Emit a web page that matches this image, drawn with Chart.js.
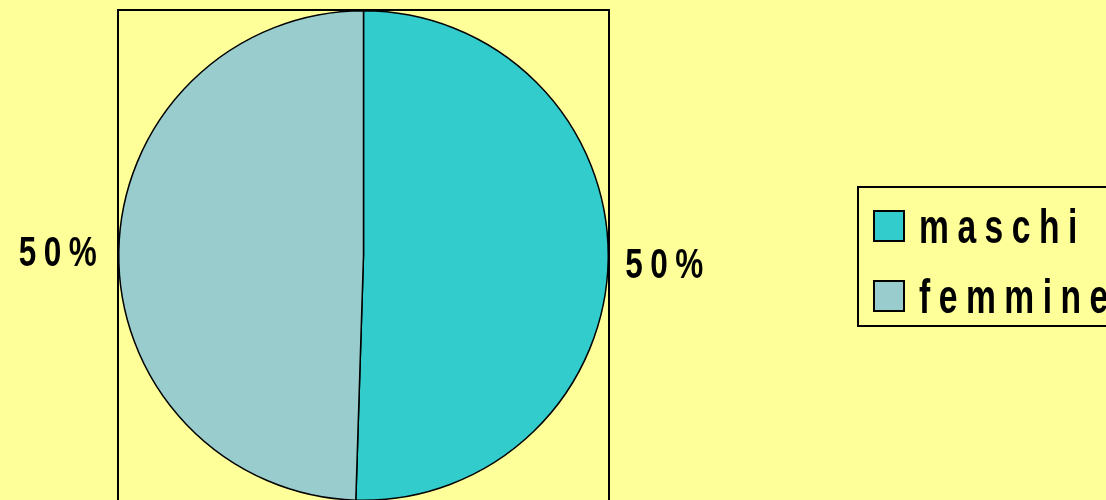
<!DOCTYPE html>
<html>
<head>
<meta charset="utf-8">
<title>maschi / femmine</title>
<script src="https://cdn.jsdelivr.net/npm/chart.js@4.4.1/dist/chart.umd.min.js"></script>
<style>
    html, body { margin: 0; padding: 0; background: #FFFF99; overflow: hidden; }
    #genderChart { display: block; }
</style>
</head>
<body>
<canvas id="genderChart" width="1106" height="520"></canvas>
<script>
// dati
var categories = ['maschi', 'femmine'];
var shares = [50.5, 49.5];
var shareLabels = ['50%', '50%'];

var sliceColors = ['#33CCCC', '#99CCCC'];
var textFont = '"Liberation Sans", Arial, sans-serif';

// scrive un testo stretto orizzontalmente e spaziato (come l'originale)
function drawSpacedText(ctx, text, x, y, size, squeeze, spacing, align) {
    ctx.save();
    ctx.font = 'bold ' + size + 'px ' + textFont;
    ctx.fillStyle = '#000000';
    ctx.textBaseline = 'alphabetic';
    ctx.textAlign = 'left';
    ctx.letterSpacing = (spacing / squeeze) + 'px';
    var width = ctx.measureText(text).width - spacing / squeeze;
    ctx.translate(x, y);
    ctx.scale(squeeze, 1);
    var startX = align === 'right' ? -width : 0;
    ctx.fillText(text, startX, 0);
    ctx.restore();
}

var decorations = {
    id: 'decorations',
    beforeDraw: function(chart) {
        var ctx = chart.ctx;
        ctx.save();
        ctx.fillStyle = '#FFFF99';
        ctx.fillRect(0, 0, chart.width, chart.height);
        ctx.restore();
    },
    afterDatasetsDraw: function(chart) {
        var ctx = chart.ctx;
        var area = chart.chartArea;

        // riquadro dell'area del grafico
        ctx.save();
        ctx.strokeStyle = '#000000';
        ctx.lineWidth = 2;
        ctx.strokeRect(area.left, area.top, area.right - area.left, area.bottom - area.top + 20);
        ctx.restore();

        // etichette percentuali fuori dalle fette
        var meta = chart.getDatasetMeta(0);
        meta.data.forEach(function(arc, i) {
            var mid = (arc.startAngle + arc.endAngle) / 2;
            var rightSide = Math.cos(mid) >= 0;
            var r = arc.outerRadius + (rightSide ? 17 : 22);
            var px = arc.x + Math.cos(mid) * r;
            var py = arc.y + Math.sin(mid) * r + (rightSide ? 3 : 0);
            drawSpacedText(ctx, shareLabels[i], px, py + 15, 42, 0.75, 7.5, rightSide ? 'left' : 'right');
        });

        // legenda
        var boxLeft = 858, boxTop = 187, boxBottom = 326;
        ctx.save();
        ctx.strokeStyle = '#000000';
        ctx.lineWidth = 2;
        ctx.strokeRect(boxLeft, boxTop, chart.width + 20 - boxLeft, boxBottom - boxTop);
        ctx.restore();

        categories.forEach(function(name, i) {
            var rowTop = 211 + i * 70;
            ctx.save();
            ctx.fillStyle = sliceColors[i];
            ctx.fillRect(874, rowTop, 30, 30);
            ctx.strokeStyle = '#000000';
            ctx.lineWidth = 2;
            ctx.strokeRect(874, rowTop, 30, 30);
            ctx.restore();
            drawSpacedText(ctx, name, 919, rowTop + 32, 48, 0.7, 8.5, 'left');
        });
    }
};

var ctx = document.getElementById('genderChart').getContext('2d');
var genderChart = new Chart(ctx, {
    type: 'pie',
    data: {
        labels: categories,
        datasets: [{
            data: shares,
            backgroundColor: sliceColors,
            borderColor: '#000000',
            borderWidth: 1.5
        }]
    },
    options: {
        responsive: false,
        animation: false,
        layout: {
            padding: { left: 118, top: 10, right: 497, bottom: 19 }
        },
        plugins: {
            legend: { display: false },
            tooltip: { enabled: false }
        }
    },
    plugins: [decorations]
});
</script>
</body>
</html>
